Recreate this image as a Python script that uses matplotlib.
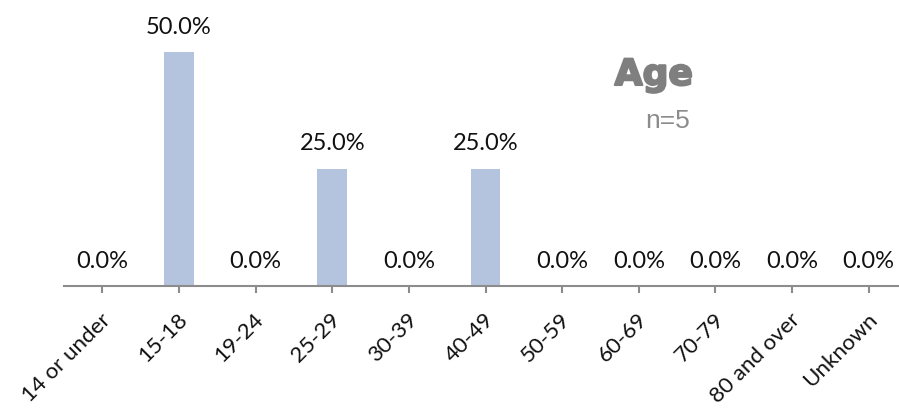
import matplotlib
matplotlib.use("Agg")
import matplotlib.pyplot as plt
import matplotlib.patheffects as pe
from matplotlib.transforms import ScaledTranslation

categories = ["14 or under", "15-18", "19-24", "25-29", "30-39", "40-49",
              "50-59", "60-69", "70-79", "80 and over", "Unknown"]
shares = [0.0, 50.0, 0.0, 25.0, 0.0, 25.0, 0.0, 0.0, 0.0, 0.0, 0.0]
title_text = "Age"
sample_text = "n=5"

W, H = 899, 412
fig = plt.figure(figsize=(W / 100, H / 100), dpi=100)
ax = fig.add_axes([64 / W, (H - 286) / H, 843 / W, 234 / H])

x = list(range(len(categories)))
ax.bar(x, shares, width=0.39, color="#b4c3de", zorder=2)

ax.set_xlim(-0.5, len(categories) - 0.5)
ax.set_ylim(0, 50)

font = "Lato"
for xi, v in zip(x, shares):
    ax.annotate(f"{v:.1f}%", (xi, v), xytext=(0, 18), textcoords="offset points",
                ha="center", va="center", fontsize=17, family=font,
                color="#111111", annotation_clip=False)

for side in ("top", "right", "left"):
    ax.spines[side].set_visible(False)
ax.spines["bottom"].set_color("#8c8c8c")
ax.spines["bottom"].set_linewidth(1.5)
ax.set_yticks([])
ax.set_xticks(x)
ax.set_xticklabels(categories, rotation=45, ha="right", rotation_mode="anchor",
                   fontsize=16, family=font, color="#111111")
ax.tick_params(axis="x", length=5, width=1.5, color="#8c8c8c", pad=12)
shift = ScaledTranslation(-2 / 100, 0, fig.dpi_scale_trans)
for lbl in ax.get_xticklabels():
    lbl.set_transform(lbl.get_transform() + shift)

fig.text(693 / W, 1 - 85 / H, title_text, ha="right", va="baseline",
         fontsize=26, fontweight="heavy", family="DejaVu Sans", color="#7f7f7f",
         path_effects=[pe.withStroke(linewidth=1.5, foreground="#7f7f7f")])
fig.text(690 / W, 1 - 128 / H, sample_text, ha="right", va="baseline",
         fontsize=19, family="Liberation Sans", color="#8c8c8c")

fig.savefig("out.png", dpi=100)
